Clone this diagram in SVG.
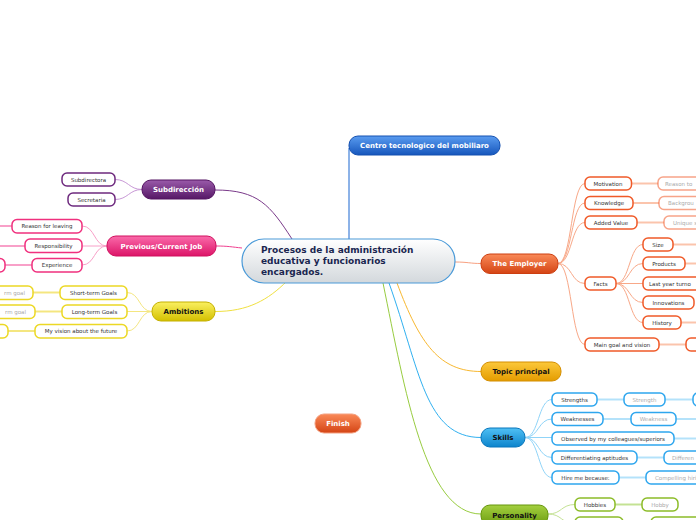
<svg xmlns="http://www.w3.org/2000/svg" width="696" height="520" viewBox="0 0 696 520">
<defs>
<linearGradient id="gC" x1="0" y1="0" x2="0" y2="1"><stop offset="0" stop-color="#ffffff"/><stop offset="1" stop-color="#d3d8dc"/></linearGradient>
<linearGradient id="gBlue" x1="0" y1="0" x2="0" y2="1"><stop offset="0" stop-color="#5a9cf0"/><stop offset="1" stop-color="#1656bc"/></linearGradient>
<linearGradient id="gPur" x1="0" y1="0" x2="0" y2="1"><stop offset="0" stop-color="#9a5aaa"/><stop offset="1" stop-color="#561866"/></linearGradient>
<linearGradient id="gPink" x1="0" y1="0" x2="0" y2="1"><stop offset="0" stop-color="#fa6aaa"/><stop offset="1" stop-color="#dc1468"/></linearGradient>
<linearGradient id="gYel" x1="0" y1="0" x2="0" y2="1"><stop offset="0" stop-color="#faf060"/><stop offset="1" stop-color="#d4c000"/></linearGradient>
<linearGradient id="gOr" x1="0" y1="0" x2="0" y2="1"><stop offset="0" stop-color="#fa8a58"/><stop offset="1" stop-color="#d44414"/></linearGradient>
<linearGradient id="gTop" x1="0" y1="0" x2="0" y2="1"><stop offset="0" stop-color="#fcc83a"/><stop offset="1" stop-color="#e49c00"/></linearGradient>
<linearGradient id="gSky" x1="0" y1="0" x2="0" y2="1"><stop offset="0" stop-color="#50c0f4"/><stop offset="1" stop-color="#0c84cc"/></linearGradient>
<linearGradient id="gGr" x1="0" y1="0" x2="0" y2="1"><stop offset="0" stop-color="#a4d040"/><stop offset="1" stop-color="#6c9c10"/></linearGradient>
</defs>
<style>
text{font-family:"DejaVu Sans",Verdana,sans-serif}
.m{font-size:7px;font-weight:bold;fill:#fff;text-anchor:middle}
.mk{font-size:7px;font-weight:bold;fill:#111;text-anchor:middle}
.t{font-size:5.5px;fill:#333;text-anchor:middle}
.ts{font-size:5.5px;fill:#333}
.g{font-size:5.5px;fill:#aaaaaa;text-anchor:middle}
.gs{font-size:5.5px;fill:#aaaaaa}
.ge{font-size:5.5px;fill:#aaaaaa;text-anchor:end}
.c{fill:#fff;stroke-width:1.5}
.pu{stroke:#6e2a7e}.pk{stroke:#f0307e}.ye{stroke:#ecd824}.or{stroke:#f05a28}.sk{stroke:#2ea6ee}.gr{stroke:#8cbc28}
.l{fill:none;stroke-width:1}
.l2{fill:none;stroke-width:2}
</style>
<g id="connectors">
<path class="l" d="M349,148 V239" stroke="#1a66d0" stroke-width="1.5"/>
<path class="l" d="M215,190 C258,190 270,205 292,239" stroke="#7a3a8a" stroke-width="1.2"/>
<path class="l" d="M216,246 C228,246 232,247 242,248" stroke="#f04090" stroke-width="1.5"/>
<path class="l" d="M215,311.5 C248,311.5 268,300 287,281" stroke="#f0e040" stroke-width="1.5"/>
<path class="l" d="M455,262 C468,262 470,263.5 481,263.5" stroke="#f8a080" stroke-width="1.5"/>
<path class="l" d="M397,283 C420,345 440,371.5 481,371.5" stroke="#f8b830" stroke-width="1.5"/>
<path class="l" d="M389,283 C420,370 425,437.5 481,437.5" stroke="#30b0f0" stroke-width="1.5"/>
<path class="l" d="M383,283 C405,390 425,514 481,514" stroke="#98cc40" stroke-width="1.5"/>
<g stroke="#c898d6">
<path class="l" d="M115,179.5 C128,179.5 129,189.5 142,189.5"/>
<path class="l" d="M115,199.5 C128,199.5 129,189.5 142,189.5"/>
</g>
<g stroke="#f8a0c8">
<path class="l" d="M82,226 C95,226 94,246 107,246"/>
<path class="l" d="M82,246 H107"/>
<path class="l" d="M82,265 C95,265 94,246 107,246"/>
<path class="l2" d="M12,226 H0"/>
<path class="l2" d="M25,246 H0"/>
<path class="l2" d="M32,265 H5"/>
</g>
<g stroke="#f4e680">
<path class="l" d="M127,292.5 C140,292.5 139,311.5 152,311.5"/>
<path class="l" d="M127,311.5 H152"/>
<path class="l" d="M127,331 C140,331 139,311.5 152,311.5"/>
<path class="l2" d="M60,292.5 H33"/>
<path class="l2" d="M62,311.5 H35"/>
<path class="l2" d="M35,331 H8"/>
</g>
<g stroke="#f8a888">
<path class="l" d="M558,263.5 C572,263.5 571,183.5 585,183.5"/>
<path class="l" d="M558,263.5 C572,263.5 571,203 585,203"/>
<path class="l" d="M558,263.5 C572,263.5 571,222.5 585,222.5"/>
<path class="l" d="M558,263.5 C572,263.5 571,283.5 585,283.5"/>
<path class="l" d="M558,263.5 C572,263.5 571,344.5 585,344.5"/>
<path class="l" d="M616,283.5 C630,283.5 629,244.5 643,244.5"/>
<path class="l" d="M616,283.5 C630,283.5 629,263.5 643,263.5"/>
<path class="l" d="M616,283.5 H643"/>
<path class="l" d="M616,283.5 C630,283.5 629,302.5 643,302.5"/>
<path class="l" d="M616,283.5 C630,283.5 629,322.5 643,322.5"/>
</g>
<g stroke="#fbc4ac">
<path class="l2" d="M631.5,183.5 H658"/>
<path class="l2" d="M633,203 H659"/>
<path class="l2" d="M637,222.5 H664"/>
<path class="l2" d="M659,344.5 H686"/>
<path class="l2" d="M673,244.5 H696"/>
<path class="l2" d="M685,263.5 H696"/>
<path class="l2" d="M681,322.5 H696"/>
</g>
<g stroke="#90d4f8">
<path class="l" d="M525,437.5 C539,437.5 538,399.5 552,399.5"/>
<path class="l" d="M525,437.5 C539,437.5 538,419 552,419"/>
<path class="l" d="M525,437.5 H552"/>
<path class="l" d="M525,437.5 C539,437.5 538,457.5 552,457.5"/>
<path class="l" d="M525,437.5 C539,437.5 538,477.5 552,477.5"/>
</g>
<g stroke="#b4e2fa">
<path class="l2" d="M597,399.5 H624"/>
<path class="l2" d="M665,399.5 H693"/>
<path class="l2" d="M603,419 H631"/>
<path class="l2" d="M676,419 H696"/>
<path class="l2" d="M674,438.5 H696"/>
<path class="l2" d="M637,457.5 H664"/>
<path class="l2" d="M619,477.5 H646"/>
</g>
<g stroke="#c4e294">
<path class="l" d="M548,514 C562,514 561,504.5 575,504.5"/>
<path class="l" d="M548,514 C562,514 561,523.5 575,523.5"/>
<path class="l2" d="M615,504.5 H642"/>
<path class="l2" d="M623,523.5 H651"/>
</g>
</g>
<g id="central">
<rect x="242" y="239" width="213" height="44" rx="22" fill="url(#gC)" stroke="#4a9ad8" stroke-width="1.2"/>
<text x="261" y="253" font-size="9" font-weight="bold" fill="#1a2650">Procesos de la administración</text>
<text x="261" y="264" font-size="9" font-weight="bold" fill="#1a2650">educativa y funcionarios</text>
<text x="261" y="275" font-size="9" font-weight="bold" fill="#1a2650">encargados.</text>
</g>
<g id="centro">
<rect x="349" y="136" width="151" height="19" rx="9" fill="url(#gBlue)" stroke="#1450b0"/>
<text class="m" x="424.5" y="148">Centro tecnologico del mobiliaro</text>
</g>
<g id="subdireccion">
<rect x="142" y="180" width="73" height="19" rx="9" fill="url(#gPur)" stroke="#541462"/>
<text class="m" x="178.5" y="192">Subdirección</text>
</g>
<g id="subdirectora"><rect class="c pu" x="62" y="173" width="53" height="13" rx="5"/><text class="t" x="88.5" y="181.5">Subdirectora</text></g>
<g id="secretaria"><rect class="c pu" x="68" y="193" width="47" height="13" rx="5"/><text class="t" x="91.5" y="201.5">Secretaria</text></g>
<g id="previous">
<rect x="107" y="236" width="109" height="20" rx="9" fill="url(#gPink)" stroke="#d0105e"/>
<text class="m" x="161.5" y="248.5">Previous/Current Job</text>
</g>
<g id="reason"><rect class="c pk" x="12" y="219.5" width="70" height="13.5" rx="5"/><text class="t" x="47" y="228.3">Reason for leaving</text></g>
<g id="responsibility"><rect class="c pk" x="25" y="239" width="57" height="13.5" rx="5"/><text class="t" x="53.5" y="247.8">Responsibility</text></g>
<g id="experience"><rect class="c pk" x="32" y="258.5" width="50" height="13.5" rx="5"/><text class="t" x="57" y="267.3">Experience</text></g>
<g id="experience-child"><rect class="c pk" x="-30" y="258.5" width="35" height="13.5" rx="5"/></g>
<g id="ambitions">
<rect x="152" y="302" width="63" height="19" rx="9" fill="url(#gYel)" stroke="#c4b000"/>
<text class="mk" x="183.5" y="314">Ambitions</text>
</g>
<g id="short"><rect class="c ye" x="60" y="286" width="67" height="13.5" rx="5"/><text class="t" x="93.5" y="294.8">Short-term Goals</text></g>
<g id="long"><rect class="c ye" x="62" y="305" width="65" height="13.5" rx="5"/><text class="t" x="94.5" y="313.8">Long-term Goals</text></g>
<g id="vision"><rect class="c ye" x="35" y="324.5" width="92" height="13.5" rx="5"/><text class="t" x="81" y="333.3">My vision about the future</text></g>
<g id="short-goal"><rect class="c ye" x="-40" y="286" width="73" height="13.5" rx="5"/><text class="ge" x="25" y="294.8">rm goal</text></g>
<g id="long-goal"><rect class="c ye" x="-40" y="305" width="75" height="13.5" rx="5"/><text class="ge" x="26" y="313.8">rm goal</text></g>
<g id="vision-child"><rect class="c ye" x="-40" y="324.5" width="48" height="13.5" rx="5"/></g>
<g id="employer">
<rect x="481" y="254" width="77" height="19.5" rx="9" fill="url(#gOr)" stroke="#cc3e10"/>
<text class="m" x="519.5" y="266">The Employer</text>
</g>
<g id="motivation"><rect class="c or" x="585" y="177" width="46.5" height="13" rx="5"/><text class="t" x="608" y="185.5">Motivation</text></g>
<g id="knowledge"><rect class="c or" x="585" y="196.5" width="48" height="13" rx="5"/><text class="t" x="609" y="205">Knowledge</text></g>
<g id="added"><rect class="c or" x="585" y="216" width="52" height="13" rx="5"/><text class="t" x="611" y="224.5">Added Value</text></g>
<g id="facts"><rect class="c or" x="585" y="277" width="31" height="13" rx="5"/><text class="t" x="600.5" y="285.5">Facts</text></g>
<g id="maingoal"><rect class="c or" x="585" y="338" width="74" height="13" rx="5"/><text class="t" x="622" y="346.5">Main goal and vision</text></g>
<g id="reason-to"><rect class="c or" x="658" y="177" width="60" height="13" rx="5" stroke-opacity="0.55"/><text class="gs" x="665" y="185.5">Reason to</text></g>
<g id="background"><rect class="c or" x="659" y="196.5" width="60" height="13" rx="5" stroke-opacity="0.55"/><text class="gs" x="668" y="205">Backgrou</text></g>
<g id="unique"><rect class="c or" x="664" y="216" width="60" height="13" rx="5" stroke-opacity="0.55"/><text class="gs" x="673" y="224.5">Unique s</text></g>
<g id="maingoal-child"><rect class="c or" x="686" y="338" width="40" height="13" rx="5"/></g>
<g id="size"><rect class="c or" x="643" y="238" width="30" height="13" rx="5"/><text class="t" x="658" y="246.5">Size</text></g>
<g id="products"><rect class="c or" x="643" y="257" width="42" height="13" rx="5"/><text class="t" x="664" y="265.5">Products</text></g>
<g id="turnover"><rect class="c or" x="643" y="277" width="70" height="13" rx="5"/><text class="ts" x="649" y="285.5">Last year turno</text></g>
<g id="innovations"><rect class="c or" x="643" y="296" width="51" height="13" rx="5"/><text class="t" x="668.5" y="304.5">Innovations</text></g>
<g id="history"><rect class="c or" x="643" y="316" width="38" height="13" rx="5"/><text class="t" x="662" y="324.5">History</text></g>
<g id="topic">
<rect x="481" y="362" width="80" height="19" rx="9" fill="url(#gTop)" stroke="#d48e00"/>
<text class="mk" x="521" y="374">Topic principal</text>
</g>
<g id="skills">
<rect x="481" y="428" width="44" height="19" rx="9" fill="url(#gSky)" stroke="#0876bc"/>
<text class="mk" x="503" y="440">Skills</text>
</g>
<g id="strengths"><rect class="c sk" x="552" y="393" width="45" height="13" rx="5"/><text class="t" x="574.5" y="401.5">Strengths</text></g>
<g id="weaknesses"><rect class="c sk" x="552" y="412.5" width="51" height="13" rx="5"/><text class="t" x="577.5" y="421">Weaknesses</text></g>
<g id="observed"><rect class="c sk" x="552" y="432" width="122" height="13" rx="5"/><text class="t" x="613" y="440.5">Observed by my colleagues/superiors</text></g>
<g id="differentiating"><rect class="c sk" x="552" y="451" width="85" height="13" rx="5"/><text class="t" x="594.5" y="459.5">Differentiating aptitudes</text></g>
<g id="hire"><rect class="c sk" x="552" y="471" width="67" height="13" rx="5"/><text class="t" x="585.5" y="479.5">Hire me because:</text></g>
<g id="strength"><rect class="c sk" x="624" y="393" width="41" height="13" rx="5"/><text class="g" x="644.5" y="401.5">Strength</text></g>
<g id="strength-child"><rect class="c sk" x="693" y="393" width="30" height="13" rx="5"/></g>
<g id="weakness"><rect class="c sk" x="631" y="412.5" width="45" height="13" rx="5"/><text class="g" x="653.5" y="421">Weakness</text></g>
<g id="different"><rect class="c sk" x="664" y="451" width="60" height="13" rx="5"/><text class="gs" x="672" y="459.5">Differen</text></g>
<g id="compelling"><rect class="c sk" x="646" y="471" width="70" height="13" rx="5"/><text class="gs" x="655" y="479.5">Compelling hiri</text></g>
<g id="personality">
<rect x="481" y="505" width="67" height="20" rx="9" fill="url(#gGr)" stroke="#66960c"/>
<text class="mk" x="514.5" y="517.5">Personality</text>
</g>
<g id="hobbies"><rect class="c gr" x="575" y="498" width="40" height="13" rx="5"/><text class="t" x="595" y="506.5">Hobbies</text></g>
<g id="hobby"><rect class="c gr" x="642" y="498" width="36" height="13" rx="5"/><text class="g" x="660" y="506.5">Hobby</text></g>
<g id="personality-child2"><rect class="c gr" x="575" y="517" width="48" height="13" rx="5"/></g>
<g id="personality-grandchild2"><rect class="c gr" x="651" y="517" width="50" height="13" rx="5"/></g>
<g id="finish">
<rect x="315" y="414" width="46" height="19" rx="9" fill="url(#gOr)" stroke="#f4a080"/>
<text class="m" x="338" y="426">Finish</text>
</g>
</svg>
